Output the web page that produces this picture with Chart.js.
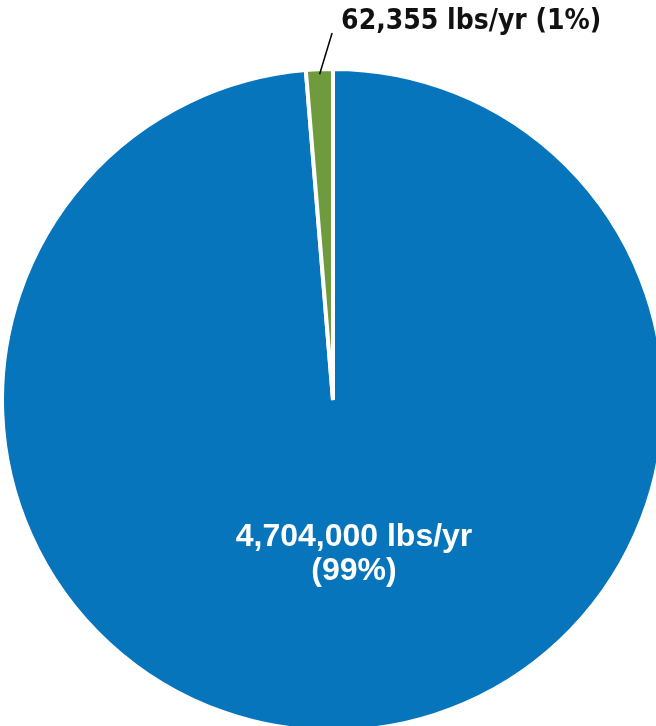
<!DOCTYPE html>
<html>
<head>
<meta charset="utf-8">
<script src="https://cdn.jsdelivr.net/npm/chart.js@4/dist/chart.umd.min.js"></script>
<style>
  html, body { margin: 0; padding: 0; background: #ffffff; overflow: hidden; width: 656px; height: 726px; }
  #wrap { position: absolute; left: 0; top: 0; width: 666px; height: 733px; }
</style>
</head>
<body>
<div id="wrap"><canvas id="c"></canvas></div>
<script>
const categories = ["Other", "Highlighted"];
const values = [4704000, 62355];
const valueLabels = ["4,704,000 lbs/yr", "62,355 lbs/yr"];
const percentLabels = ["(99%)", "(1%)"];
const colors = ["#0775BC", "#6F9A3D"];

const labelPlugin = {
  id: "sliceLabels",
  afterDatasetsDraw(chart) {
    const ctx = chart.ctx;
    const meta = chart.getDatasetMeta(0);
    const big = meta.data[0];
    const small = meta.data[1];
    const cx = big.x, cy = big.y;
    const r = big.outerRadius - 2;

    // small slice: leader line + outside label
    const sp = small.getProps(["startAngle", "endAngle"], true);
    const mid = (sp.startAngle + sp.endAngle) / 2;
    const sx = cx + Math.cos(mid) * (r - 3);
    const sy = cy + Math.sin(mid) * (r - 3);
    const ex = sx + 12.5;
    const ey = cy - r - 38;
    ctx.save();
    ctx.strokeStyle = "#000000";
    ctx.lineWidth = 1.5;
    ctx.beginPath();
    ctx.moveTo(sx, sy);
    ctx.lineTo(ex, ey);
    ctx.stroke();
    ctx.fillStyle = "#111111";
    ctx.font = "bold 28px 'DejaVu Sans Condensed', 'DejaVu Sans', sans-serif";
    try { ctx.fontStretch = "condensed"; } catch (e) {}
    ctx.textAlign = "left";
    ctx.textBaseline = "alphabetic";
    ctx.fillText(valueLabels[1] + " " + percentLabels[1], ex + 9, cy - r - 42);
    ctx.restore();

    // big slice: inside label
    ctx.save();
    ctx.fillStyle = "#ffffff";
    ctx.font = "bold 32px 'Liberation Sans', Arial, sans-serif";
    ctx.textAlign = "center";
    ctx.textBaseline = "alphabetic";
    ctx.fillText(valueLabels[0], cx + 21, cy + 146);
    ctx.fillText(percentLabels[0], cx + 21, cy + 180);
    ctx.restore();
  }
};

new Chart(document.getElementById("c"), {
  type: "pie",
  data: {
    labels: categories,
    datasets: [{
      data: values,
      backgroundColor: colors,
      borderColor: "#ffffff",
      borderWidth: 4
    }]
  },
  options: {
    responsive: true,
    maintainAspectRatio: false,
    animation: false,
    layout: { padding: { top: 67, left: 0, right: 0, bottom: 0 } },
    plugins: {
      legend: { display: false },
      tooltip: { enabled: false }
    }
  },
  plugins: [labelPlugin]
});
</script>
</body>
</html>
